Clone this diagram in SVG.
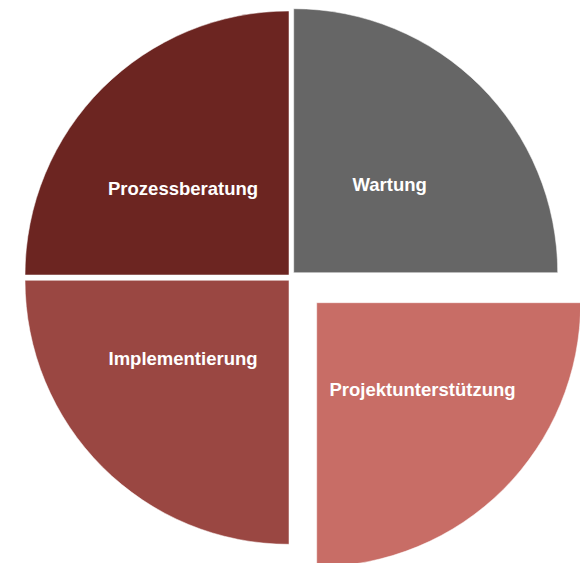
<svg xmlns="http://www.w3.org/2000/svg" width="580" height="563" viewBox="0 0 580 563">
<style>
.s{stroke:#ffffff;stroke-opacity:0.5;stroke-width:1}
.t{font-family:"Liberation Sans",Arial,sans-serif;font-weight:bold;font-size:18.5px;fill:#ffffff}
</style>
<rect width="580" height="563" fill="#ffffff"/>
<g id="prozessberatung">
<path class="s" fill="#6C2521" d="M289,275 L25,275 A264,264 0 0 1 289,11 Z"/>
<text class="t" x="108" y="195">Prozessberatung</text>
</g>
<g id="wartung">
<path class="s" fill="#666666" d="M293.7,272.7 L293.7,8.7 A264,264 0 0 1 557.7,272.7 Z"/>
<text class="t" x="352.5" y="191.3">Wartung</text>
</g>
<g id="implementierung">
<path class="s" fill="#9A4742" d="M289,280.3 L289,544.3 A264,264 0 0 1 25,280.3 Z"/>
<text class="t" x="108.5" y="365.3">Implementierung</text>
</g>
<g id="projektunterstuetzung">
<path class="s" fill="#C86D66" d="M316.7,302.7 L580.7,302.7 A264,264 0 0 1 316.7,566.7 Z"/>
<text class="t" x="329.5" y="396">Projektunterstützung</text>
</g>
<g id="connectors"/>
</svg>
